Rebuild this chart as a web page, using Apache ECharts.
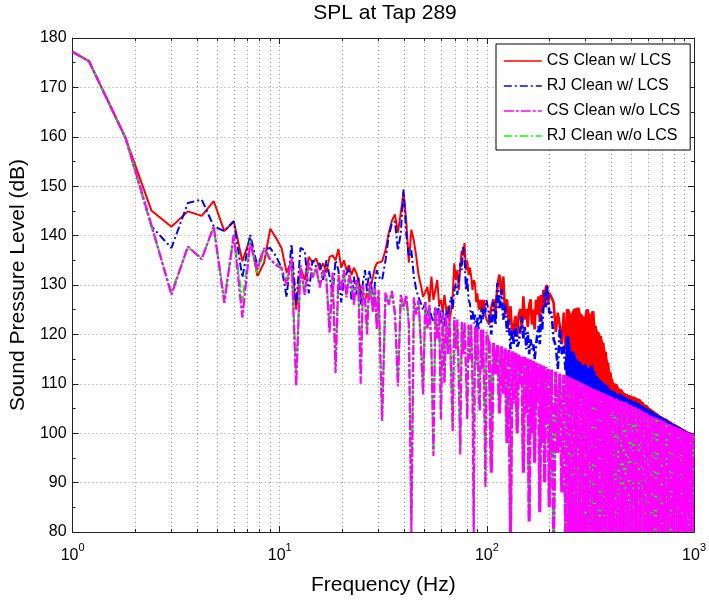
<!DOCTYPE html>
<html>
<head>
<meta charset="utf-8">
<script src="https://cdn.jsdelivr.net/npm/echarts@6/dist/echarts.min.js"></script>
<style>
  html, body { margin: 0; padding: 0; background: #fff; }
  #main { width: 709px; height: 601px; }
</style>
</head>
<body>
<div id="main"></div>
<script>
// frequency bins (Hz), shared by all four curves
const freqs = [
  1, 1.2, 1.8, 2.4, 3.0, 3.6, 4.2, 4.8, 5.4, 6.0, 6.6, 7.2, 7.8, 8.4, 9.0, 9.6,
  10.2, 10.8, 11.4, 12.0, 12.6, 13.2, 13.8, 14.4, 15.0, 15.6, 16.2, 16.8, 17.4, 18.0, 18.6, 19.2, 19.8,
  20.4, 21.0, 21.6, 22.2, 22.8, 23.4, 24.0, 24.6, 25.2, 25.8, 26.4, 27.0, 27.6, 28.2, 28.8, 29.4, 30.0,
  31.2, 32.4, 33.6, 34.8, 36.0, 37.2, 38.4, 39.6, 40.8, 42.0, 43.2, 44.4, 45.6, 46.8, 48.0, 49.2, 50.4,
  51.6, 52.8, 54.0, 55.2, 56.4, 57.6, 58.8, 60.0, 61.2, 62.4, 63.6, 64.8, 66.0, 67.2, 68.4, 69.6, 70.8,
  72.0, 73.2, 74.4, 75.6, 76.8, 78.0, 79.2, 80.4, 81.6, 82.8, 84.0, 85.2, 86.4, 87.6, 88.8, 90.0, 91.2,
  92.4, 93.6, 94.8, 96.0, 97.2, 98.4, 99.6,
  102.5, 105, 107.5, 110, 112.5, 115, 117.5, 120, 122.5, 125, 127.5, 130, 132.5, 135, 137.5, 140,
  142.5, 145, 147.5, 150, 152.5, 155, 157.5, 160, 162.5, 165, 167.5, 170, 172.5, 175, 177.5, 180,
  182.5, 185, 187.5, 190, 192.5, 195, 197.5, 200,
  205, 210, 215, 220, 225, 230, 235, 240, 245, 250, 255, 260, 265, 270, 275, 280, 285, 290, 295, 300,
  305, 310, 315, 320, 325, 330, 335, 340, 345, 350, 355, 360, 365, 370, 375, 380, 385, 390, 395, 400,
  412.5, 425, 437.5, 450, 462.5, 475, 487.5, 500, 512.5, 525, 537.5, 550, 562.5, 575, 587.5, 600,
  612.5, 625, 637.5, 650, 662.5, 675, 687.5, 700, 712.5, 725, 737.5, 750, 762.5, 775, 787.5, 800,
  812.5, 825, 837.5, 850, 862.5, 875, 887.5, 900, 912.5, 925, 937.5, 950, 962.5, 975, 987.5, 1000
];

// SPL (dB)
const csWithLcs = [
  177.2, 175.3, 159.8, 145.1, 141.8, 144.9, 144.0, 147.0, 140.9, 142.9, 134.8, 139.5, 131.8, 134.5, 141.4, 139.5,
  137.5, 132.5, 135.0, 125.0, 133.5, 131.0, 135.7, 134.5, 135.4, 133.0, 134.4, 132.5, 135.7, 136.0, 135.0, 137.3, 133.5,
  135.0, 133.0, 134.0, 132.0, 133.5, 132.5, 131.0, 129.0, 127.5, 126.9, 128.3, 127.0, 130.0, 131.7, 133.5, 134.4, 134.0,
  134.8, 137.0, 140.6, 143.0, 144.3, 140.6, 144.6, 148.8, 143.0, 134.5, 141.2, 139.0, 135.8, 132.0, 130.0, 127.6, 128.5,
  129.6, 126.5, 131.7, 127.0, 129.0, 131.0, 126.0, 127.0, 124.5, 128.0, 125.0, 125.6, 122.5, 124.9, 128.0, 134.4, 131.0,
  133.0, 129.0, 134.0, 137.0, 136.0, 138.5, 133.0, 135.0, 132.0, 133.5, 131.7, 129.0, 131.0, 130.3, 126.5, 128.3, 125.0,
  127.0, 124.5, 127.0, 125.0, 127.0, 124.0, 123.0,
  122.0, 125.5, 127.1, 124.0, 130.0, 132.1, 128.0, 131.7, 124.0, 127.1, 122.5, 125.7, 120.0, 121.7, 123.7, 119.5,
  124.0, 125.1, 121.0, 127.7, 123.0, 125.1, 121.5, 126.0, 127.1, 122.0, 125.0, 121.0, 127.0, 124.0, 127.7, 122.5,
  128.0, 124.5, 129.0, 125.5, 129.5, 130.0, 126.0, 128.4,
  127.5, 126.4, 120.5, 124.4, 121.7, 118.0, 124.4, 117.0, 125.1, 116.0, 124.1, 118.5, 125.1, 115.0, 125.4, 117.0, 124.1, 114.5, 123.5, 116.0,
  125.1, 113.5, 124.0, 115.5, 124.7, 112.5, 121.7, 114.0, 120.5, 111.5, 119.7, 113.0, 118.3, 110.5, 116.5, 111.0, 114.3, 109.5, 112.3, 108.8,
  110.0, 108.2, 108.9, 107.4, 108.0, 106.9, 107.6, 106.4, 107.3, 105.9, 106.9, 105.6, 106.3, 105.1, 105.6, 104.7,
  105.1, 104.2, 104.6, 103.7, 104.1, 103.3, 103.6, 102.9, 103.2, 102.5, 102.9, 102.1, 102.5, 101.8, 102.1, 101.5,
  101.8, 101.2, 101.5, 100.9, 101.2, 100.6, 100.9, 100.3, 100.6, 100.1, 100.3, 99.9, 100.1, 99.7, 99.9, 99.5
];

const rjWithLcs = [
  177.2, 175.3, 159.8, 141.9, 137.5, 146.6, 147.3, 141.9, 140.9, 142.9, 131.5, 140.2, 133.8, 137.2, 137.5, 135.8,
  133.5, 127.5, 138.3, 126.0, 137.5, 137.0, 128.3, 135.0, 133.7, 134.4, 131.0, 135.0, 131.7, 128.3, 135.0, 133.0, 126.5,
  131.0, 132.3, 133.5, 126.9, 131.7, 128.0, 131.5, 126.0, 130.5, 133.0, 128.5, 133.0, 131.0, 124.5, 130.5, 133.0, 131.7,
  131.0, 135.0, 140.0, 142.4, 142.8, 137.0, 140.5, 149.3, 140.4, 135.7, 137.0, 131.7, 129.0, 127.5, 126.3, 124.9, 126.5,
  124.0, 125.5, 123.6, 122.5, 125.6, 124.0, 126.0, 122.0, 125.0, 121.5, 124.9, 123.0, 126.0, 127.6, 125.0, 129.0, 130.3,
  128.0, 131.0, 134.5, 133.0, 137.7, 135.7, 129.0, 131.5, 127.0, 126.3, 123.0, 125.0, 122.2, 124.0, 120.2, 123.6, 121.0,
  124.0, 122.0, 125.6, 123.0, 126.0, 124.5, 127.0,
  124.0, 120.0, 126.5, 122.0, 130.4, 125.0, 129.1, 123.0, 126.0, 120.5, 123.0, 117.0, 121.0, 118.0, 122.0, 117.5,
  118.3, 121.0, 123.7, 119.0, 121.5, 117.0, 120.5, 116.0, 119.0, 117.0, 118.0, 115.0, 117.5, 120.0, 121.7, 118.0,
  124.0, 121.0, 126.0, 128.4, 125.5, 130.0, 127.5, 124.4,
  124.4, 119.0, 117.7, 113.0, 121.7, 116.0, 117.7, 112.5, 119.7, 114.0, 113.0, 116.5, 112.3, 115.0, 111.8, 114.5, 111.5, 113.7, 110.8, 114.0,
  110.5, 113.0, 110.2, 113.7, 109.9, 112.5, 109.7, 111.5, 109.4, 111.0, 109.2, 110.5, 109.0, 110.0, 108.7, 109.6, 108.5, 109.0, 108.3, 108.6,
  108.0, 107.6, 107.8, 107.0, 107.2, 106.6, 106.8, 106.2, 106.4, 105.8, 105.9, 105.4, 105.5, 105.0, 105.1, 104.6,
  104.6, 104.2, 104.2, 103.8, 103.8, 103.4, 103.4, 103.0, 103.0, 102.6, 102.6, 102.3, 102.2, 101.9, 101.9, 101.6,
  101.5, 101.3, 101.2, 101.0, 100.9, 100.7, 100.6, 100.4, 100.3, 100.1, 100.0, 99.9, 99.8, 99.7, 99.6, 99.5
];

const csWithoutLcs = [
  177.2, 175.3, 159.8, 142.2, 128.0, 137.8, 135.2, 141.9, 126.4, 140.2, 123.4, 138.5, 133.1, 137.5, 135.2, 134.0,
  133.5, 130.0, 135.5, 109.5, 134.0, 128.0, 134.5, 131.5, 133.5, 129.5, 133.0, 131.0, 120.3, 132.5, 112.2, 132.0, 129.0,
  133.0, 127.5, 132.0, 130.5, 126.0, 131.0, 129.0, 110.0, 130.0, 127.0, 120.0, 130.5, 128.0, 124.5, 129.5, 121.0, 129.0,
  102.4, 128.5, 126.0, 128.8, 124.0, 109.5, 128.0, 125.5, 128.0, 122.0, 80.0, 127.5, 124.0, 127.0, 118.0, 107.8, 126.5,
  121.0, 126.0, 117.0, 95.4, 125.5, 119.0, 125.0, 102.8, 124.5, 110.0, 124.0, 116.0, 123.8, 112.0, 100.4, 123.5, 117.0,
  123.0, 111.0, 95.7, 122.5, 116.0, 122.5, 113.0, 102.8, 122.0, 115.0, 122.0, 110.0, 80.0, 121.5, 114.0, 121.5, 108.0,
  104.5, 121.0, 113.0, 121.0, 106.0, 89.0, 120.5,
  118.5, 92, 118.3, 112, 118.0, 104, 117.6, 108, 117.2, 98, 117.0, 80, 116.6, 106, 116.3, 100,
  116.0, 110, 115.7, 92, 115.4, 104, 115.1, 82, 114.9, 100, 114.6, 94, 114.3, 106, 114.1, 84,
  113.9, 98, 113.6, 90, 113.4, 102, 113.2, 85,
  112.9, 80, 112.5, 96, 112.1, 88, 111.8, 80, 111.4, 92, 111.0, 84, 110.7, 98, 110.4, 80, 110.1, 90, 109.8, 82,
  109.5, 80, 109.2, 94, 108.9, 80, 108.7, 86, 108.5, 80, 108.2, 90, 108.0, 80, 107.8, 84, 107.6, 80, 107.4, 88,
  107.0, 80, 106.5, 86, 106.2, 80, 105.7, 80, 105.3, 92, 104.9, 80, 104.5, 80, 104.1, 84,
  103.6, 80, 103.3, 80, 103.0, 88, 102.7, 80, 102.4, 80, 102.0, 82, 101.8, 80, 101.5, 80,
  101.3, 86, 101.0, 80, 100.8, 80, 100.5, 80, 100.3, 84, 100.1, 80, 99.9, 80, 99.7, 99.5
];

const rjWithoutLcs = [
  177.2, 175.3, 159.8, 142.0, 128.5, 137.6, 135.5, 141.5, 127.0, 140.0, 126.5, 139.0, 132.5, 137.0, 135.0, 134.5,
  133.0, 131.0, 135.0, 112.0, 133.5, 128.5, 134.0, 132.0, 133.0, 130.0, 132.5, 131.5, 121.0, 132.0, 114.0, 131.5, 129.5,
  132.5, 128.0, 131.5, 130.0, 126.5, 130.5, 129.5, 112.0, 129.5, 127.5, 121.0, 130.0, 128.5, 125.0, 129.0, 122.0, 128.5,
  103.5, 128.0, 126.5, 128.3, 124.5, 110.5, 127.5, 125.0, 127.5, 122.5, 82.0, 127.0, 124.5, 126.5, 118.5, 108.5, 126.0,
  121.5, 125.5, 117.5, 96.5, 125.0, 119.5, 124.5, 103.5, 124.0, 110.5, 123.5, 116.5, 123.3, 112.5, 101.0, 123.0, 117.5,
  122.5, 111.5, 96.5, 122.0, 116.5, 122.0, 113.5, 103.5, 121.5, 115.5, 121.5, 110.5, 81.0, 121.0, 114.5, 121.0, 108.5,
  105.0, 120.5, 113.5, 120.5, 106.5, 90.0, 120.0,
  118.1, 93, 117.9, 113, 117.6, 105, 117.2, 109, 116.8, 99, 116.6, 80, 116.2, 107, 115.9, 101,
  115.6, 111, 115.3, 93, 115.0, 105, 114.7, 83, 114.5, 101, 114.2, 95, 113.9, 107, 113.7, 85,
  113.5, 99, 113.2, 91, 113.0, 103, 112.8, 86,
  112.5, 80, 112.1, 97, 111.7, 89, 111.4, 80, 111.0, 93, 110.6, 85, 110.3, 99, 110.0, 80, 109.7, 91, 109.4, 83,
  109.1, 80, 108.8, 95, 108.5, 80, 108.3, 87, 108.1, 80, 107.8, 91, 107.6, 80, 107.4, 85, 107.2, 80, 107.0, 89,
  106.6, 80, 106.1, 87, 105.8, 80, 105.3, 80, 104.9, 93, 104.5, 80, 104.1, 80, 103.7, 85,
  103.2, 80, 102.9, 80, 102.6, 89, 102.3, 80, 102.0, 80, 101.6, 83, 101.4, 80, 101.1, 80,
  100.9, 87, 100.6, 80, 100.4, 80, 100.1, 80, 99.9, 85, 99.7, 80, 99.5, 80, 99.3, 99.1
];

const yTicks = { min: 80, max: 180, step: 10 };
const names = ['CS Clean w/ LCS', 'RJ Clean w/ LCS', 'CS Clean w/o LCS', 'RJ Clean w/o LCS'];

const font = 'Liberation Sans, Arial, Helvetica, sans-serif';
const dashDot = [8, 3, 2, 3];
const gridDots = { color: '#9a9a9a', width: 1, type: [1, 3] };
// above these bins the spectra are so dense they read as filled bands
const denseFrom = freqs.indexOf(102.5);
const solidFrom = freqs.indexOf(240);

function pairs(vals, from, to) {
  const out = [];
  for (let i = from; i < to; i++) out.push([freqs[i], vals[i]]);
  return out;
}

// upper edge of a dense band: the local peak around each bin
function peaks(vals, from, to) {
  const out = [];
  for (let i = from; i < to; i++) {
    const lo = Math.max(0, i - 1), hi = Math.min(vals.length - 1, i + 1);
    out.push([freqs[i], Math.max(vals[lo], vals[i], vals[hi])]);
  }
  return out;
}

// one named curve drawn as pieces (same legend entry); z orders the layers
function curve(name, vals, color, type, width, denseType, denseWidth, z) {
  const base = {
    name: name,
    type: 'line',
    symbol: 'none',
    silent: true,
    itemStyle: { color: color }
  };
  return [
    Object.assign({}, base, {
      z: z + 1,
      lineStyle: { color: color, width: width, type: type },
      data: pairs(vals, 0, denseFrom + 1)
    }),
    Object.assign({}, base, {
      z: z + 1,
      lineStyle: { color: color, width: denseWidth, type: denseType },
      data: pairs(vals, denseFrom, freqs.length)
    })
  ];
}

function band(name, vals, color, z) {
  return {
    name: name,
    type: 'line',
    symbol: 'none',
    silent: true,
    z: z,
    lineStyle: { width: 0 },
    itemStyle: { color: color },
    areaStyle: { color: color, opacity: 1, origin: 'start' },
    data: peaks(vals, solidFrom, freqs.length)
  };
}

const chart = echarts.init(document.getElementById('main'), null, { renderer: 'canvas' });
chart.setOption({
  animation: false,
  backgroundColor: '#fff',
  textStyle: { fontFamily: font, color: '#000' },
  title: {
    text: 'SPL at Tap 289',
    left: 385,
    top: 3,
    textAlign: 'center',
    padding: 0,
    textStyle: { fontSize: 21, fontWeight: 'normal', color: '#000', fontFamily: font }
  },
  legend: {
    data: names,
    orient: 'vertical',
    left: 496,
    top: 44,
    z: 30,
    itemWidth: 38,
    itemHeight: 14,
    itemGap: 9,
    padding: [9, 10, 6, 7],
    borderColor: '#000',
    borderWidth: 1,
    backgroundColor: '#fff',
    selectedMode: false,
    itemStyle: { opacity: 0 },
    lineStyle: { width: 1.6 },
    textStyle: { fontSize: 16, color: '#000', fontFamily: font }
  },
  grid: { left: 72, right: 11, top: 38, bottom: 68 },
  xAxis: [
    {
      type: 'log',
      logBase: 10,
      min: 1,
      max: 1000,
      name: 'Frequency (Hz)',
      nameLocation: 'middle',
      nameGap: 43,
      nameTextStyle: { fontSize: 21, color: '#000', fontFamily: font },
      axisLine: { show: true, lineStyle: { color: '#222' } },
      axisTick: { inside: true, length: 6, lineStyle: { color: '#222' } },
      minorTick: { show: true, splitNumber: 9, length: 3, lineStyle: { color: '#222' } },
      splitLine: { show: true, lineStyle: gridDots },
      minorSplitLine: { show: true, lineStyle: gridDots },
      axisLabel: {
        margin: 10,
        showMinLabel: true,
        showMaxLabel: true,
        formatter: function (v) {
          return '{b|10}{s|' + Math.round(Math.log10(v)) + '}';
        },
        rich: {
          b: { fontSize: 16, color: '#000', fontFamily: font, lineHeight: 22, verticalAlign: 'bottom' },
          s: { fontSize: 11, color: '#000', fontFamily: font, lineHeight: 22, verticalAlign: 'top' }
        }
      }
    },
    {
      type: 'log',
      logBase: 10,
      min: 1,
      max: 1000,
      position: 'top',
      axisLine: { show: true, lineStyle: { color: '#222' } },
      axisTick: { inside: true, length: 6, lineStyle: { color: '#222' } },
      minorTick: { show: true, splitNumber: 9, length: 3, lineStyle: { color: '#222' } },
      axisLabel: { show: false },
      splitLine: { show: false }
    }
  ],
  yAxis: [
    {
      type: 'value',
      min: yTicks.min,
      max: yTicks.max,
      interval: yTicks.step,
      name: 'Sound Pressure Level (dB)',
      nameLocation: 'middle',
      nameGap: 37,
      nameTextStyle: { fontSize: 21, color: '#000', fontFamily: font },
      axisLine: { show: true, lineStyle: { color: '#222' } },
      axisTick: { show: true, inside: true, length: 6, lineStyle: { color: '#222' } },
      minorTick: { show: true, splitNumber: 2, length: 3, lineStyle: { color: '#222' } },
      splitLine: { show: true, lineStyle: gridDots },
      axisLabel: { fontSize: 16, color: '#000', margin: 6, fontFamily: font }
    },
    {
      type: 'value',
      min: yTicks.min,
      max: yTicks.max,
      interval: yTicks.step,
      position: 'right',
      axisLine: { show: true, lineStyle: { color: '#222' } },
      axisTick: { show: true, inside: true, length: 6, lineStyle: { color: '#222' } },
      minorTick: { show: true, splitNumber: 2, length: 3, lineStyle: { color: '#222' } },
      splitLine: { show: false },
      axisLabel: { show: false }
    }
  ],
  series: [].concat(
    curve(names[0], csWithLcs, '#ff0000', 'solid', 2, 'solid', 2.6, 2),
    curve(names[1], rjWithLcs, '#0000ff', dashDot, 2, dashDot, 2.6, 4),
    curve(names[3], rjWithoutLcs, '#00ff00', dashDot, 2.2, dashDot, 3, 7),
    curve(names[2], csWithoutLcs, '#ff00ff', [10, 2, 3, 2], 2.2, [12, 2, 3, 2], 3.2, 8),
    band(names[0], csWithLcs, '#ff0000', 2),
    band(names[1], rjWithLcs, '#0000ff', 4),
    band(names[2], csWithoutLcs, '#ff00ff', 6)
  )
});
</script>
</body>
</html>
